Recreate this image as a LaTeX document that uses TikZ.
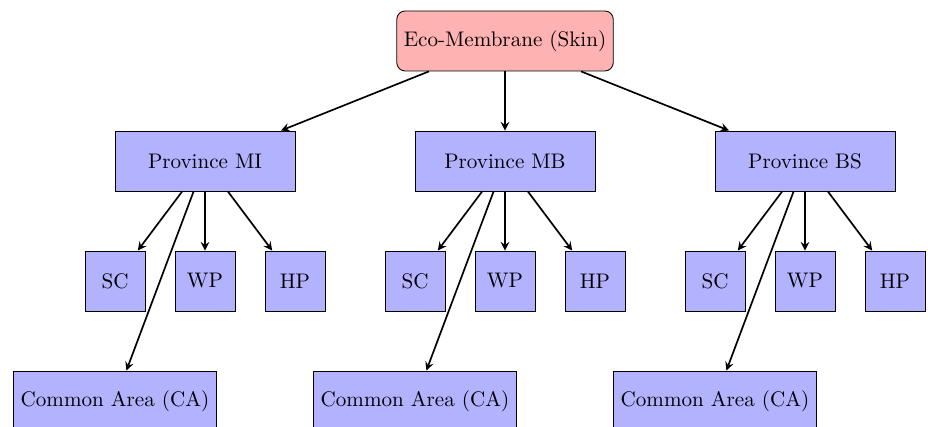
\documentclass[tikz,border=0pt]{standalone}
\usetikzlibrary{arrows}
\begin{document}
\begin{tikzpicture}[
  topbox/.style={draw, fill=red!30, rounded corners, minimum height=1cm},
  provbox/.style={draw, fill=blue!30, minimum width=3cm, minimum height=1cm},
  smallbox/.style={draw, fill=blue!30, minimum size=1cm},
  cabox/.style={draw, fill=blue!30, minimum height=1cm},
  conn/.style={-stealth, thick}
]
\useasboundingbox (-8.417,-4.433) rectangle (7.05,2.683);
\begin{scope}
\clip (-8.417,-4.433) rectangle (7.05,2.683);
\node[topbox] (top) at (0,2) {Eco-Membrane (Skin)};
\foreach \n/\x/\lab in {mi/-5/MI, mb/0/MB, bs/5/BS}{
  \node[provbox] (\n) at (\x,0) {Province \lab};
  \node[smallbox] (\n sc) at (\x-1.5,-2) {SC};
  \node[smallbox] (\n wp) at (\x,-2) {WP};
  \node[smallbox] (\n hp) at (\x+1.5,-2) {HP};
  \node[cabox] (\n ca) at (\x-1.5,-4) {Common Area (CA)};
  \draw[conn] (top) -- (\n);
  \draw[conn] (\n) -- (\n sc);
  \draw[conn] (\n) -- (\n wp);
  \draw[conn] (\n) -- (\n hp);
  \draw[conn] (\n) -- (\n ca);
}
\end{scope}
\end{tikzpicture}
\end{document}
